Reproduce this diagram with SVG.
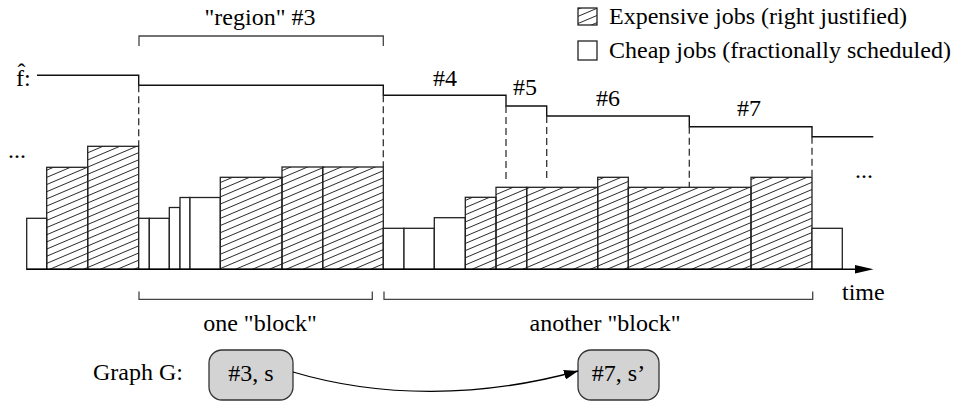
<svg xmlns="http://www.w3.org/2000/svg" width="961" height="406" viewBox="0 0 961 406">
  <defs>
    <pattern id="hatch" patternUnits="userSpaceOnUse" width="40" height="6.6" patternTransform="rotate(-23)">
      <line x1="0" y1="3.3" x2="40" y2="3.3" stroke="#000" stroke-width="0.8"/>
    </pattern>
    <marker id="arrow" viewBox="0 0 14 10" refX="14" refY="5" markerWidth="14" markerHeight="10" markerUnits="userSpaceOnUse" orient="auto">
      <path d="M0,0 L14,5 L0,10 z" fill="#000"/>
    </marker>
  </defs>
  <style>
    text { font-family: "Liberation Serif", "Times New Roman", serif; font-size: 24px; fill: #000; }
    .cheap { fill: #fff; stroke: #222; stroke-width: 1.3; }
    .exp { fill: url(#hatch); stroke: #222; stroke-width: 1.3; }
    .fline { fill: none; stroke: #111; stroke-width: 1.4; }
    .dash { fill: none; stroke: #333; stroke-width: 1.3; stroke-dasharray: 7 4; }
    .bracket { fill: none; stroke: #444; stroke-width: 1.3; }
    .node rect { fill: #d3d3d3; stroke: #333; stroke-width: 1.3; }
    .mid { text-anchor: middle; }
  </style>
  <rect width="961" height="406" fill="#fff"/>

  <!-- legend -->
  <g id="legend">
    <rect x="578" y="8" width="19" height="17" class="exp"/>
    <text x="609" y="24">Expensive jobs (right justified)</text>
    <rect x="578" y="41" width="19" height="19" class="cheap"/>
    <text x="609" y="58">Cheap jobs (fractionally scheduled)</text>
  </g>

  <!-- region bracket -->
  <g id="region">
    <path class="bracket" d="M139,46 V36 H383.3 V46"/>
    <text x="260" y="25" class="mid">"region" #3</text>
  </g>

  <!-- f-hat step curve -->
  <g id="fhat">
    <text x="16" y="86">f̂:</text>
    <path class="fline" d="M37,75.3 H138.7 V85.3 H383.3 V95.3 H506 V106 H546.7 V116 H689.3 V126.7 H812 V136.7 H873.3"/>
    <text x="433" y="86">#4</text>
    <text x="513" y="95">#5</text>
    <text x="596" y="106">#6</text>
    <text x="737" y="116">#7</text>
  </g>

  <!-- region boundaries -->
  <g id="boundaries">
    <line class="dash" x1="138.7" y1="85.3" x2="138.7" y2="146.3"/>
    <line class="dash" x1="383.3" y1="95.3" x2="383.3" y2="167"/>
    <line class="dash" x1="506" y1="106" x2="506" y2="181"/>
    <line class="dash" x1="546.7" y1="116" x2="546.7" y2="181"/>
    <line class="dash" x1="689.3" y1="126.7" x2="689.3" y2="187.3"/>
    <line class="dash" x1="812" y1="136.7" x2="812" y2="177.3"/>
  </g>

  <!-- job schedule -->
  <g id="jobs">
    <rect class="cheap" x="26.7" y="218.3" width="20" height="51"/>
    <rect class="exp" x="46.7" y="167.3" width="41" height="102"/>
    <rect class="exp" x="87.7" y="146.3" width="51" height="123"/>
    <rect class="cheap" x="138.7" y="218.3" width="10.6" height="51"/>
    <rect class="cheap" x="149.3" y="218.3" width="20" height="51"/>
    <rect class="cheap" x="169.3" y="207.5" width="10.7" height="61.8"/>
    <rect class="cheap" x="180" y="197.5" width="10" height="71.8"/>
    <rect class="cheap" x="190" y="197.5" width="30.3" height="71.8"/>
    <rect class="exp" x="220.3" y="177.3" width="61.7" height="92"/>
    <rect class="exp" x="282" y="167" width="40.7" height="102.3"/>
    <rect class="exp" x="322.7" y="167" width="60.6" height="102.3"/>
    <rect class="cheap" x="383.3" y="228.3" width="20.7" height="41"/>
    <rect class="cheap" x="404" y="228.3" width="30.3" height="41"/>
    <rect class="cheap" x="434.3" y="217.7" width="31" height="51.6"/>
    <rect class="exp" x="465.3" y="197.3" width="30.7" height="72"/>
    <rect class="exp" x="496" y="187.3" width="30.7" height="82"/>
    <rect class="exp" x="526.7" y="187.3" width="71" height="82"/>
    <rect class="exp" x="597.7" y="177.3" width="30.6" height="92"/>
    <rect class="exp" x="628.3" y="187.3" width="122.7" height="82"/>
    <rect class="exp" x="751" y="177.3" width="61" height="92"/>
    <rect class="cheap" x="812" y="228.3" width="30.3" height="41"/>
    <text x="8" y="158">...</text>
    <text x="855" y="178">...</text>
  </g>

  <!-- time axis -->
  <g id="axis">
    <line x1="26.7" y1="269.3" x2="858" y2="269.3" stroke="#000" stroke-width="1.4"/>
    <path d="M855,265 L873.5,269.3 L855,273.6 z" fill="#000"/>
    <text x="842" y="300">time</text>
  </g>

  <!-- blocks -->
  <g id="blocks">
    <path class="bracket" d="M139,291.5 V299.3 H372.3 V291.5"/>
    <path class="bracket" d="M384,291.5 V299.3 H812.7 V291.5"/>
    <text x="260" y="331" class="mid">one "block"</text>
    <text x="605" y="331" class="mid">another "block"</text>
  </g>

  <!-- graph G -->
  <text x="93" y="380">Graph G:</text>
  <g id="node-3s" class="node">
    <rect x="209" y="350" width="84" height="50" rx="13"/>
    <text x="251" y="381" class="mid">#3, s</text>
  </g>
  <g id="node-7s" class="node">
    <rect x="578" y="350" width="81" height="50" rx="13"/>
    <text x="618.5" y="381" class="mid">#7, s’</text>
  </g>
  <g id="edges">
    <path d="M293,372 C380,398 480,398 578,371" fill="none" stroke="#000" stroke-width="1.3" marker-end="url(#arrow)"/>
  </g>
</svg>
